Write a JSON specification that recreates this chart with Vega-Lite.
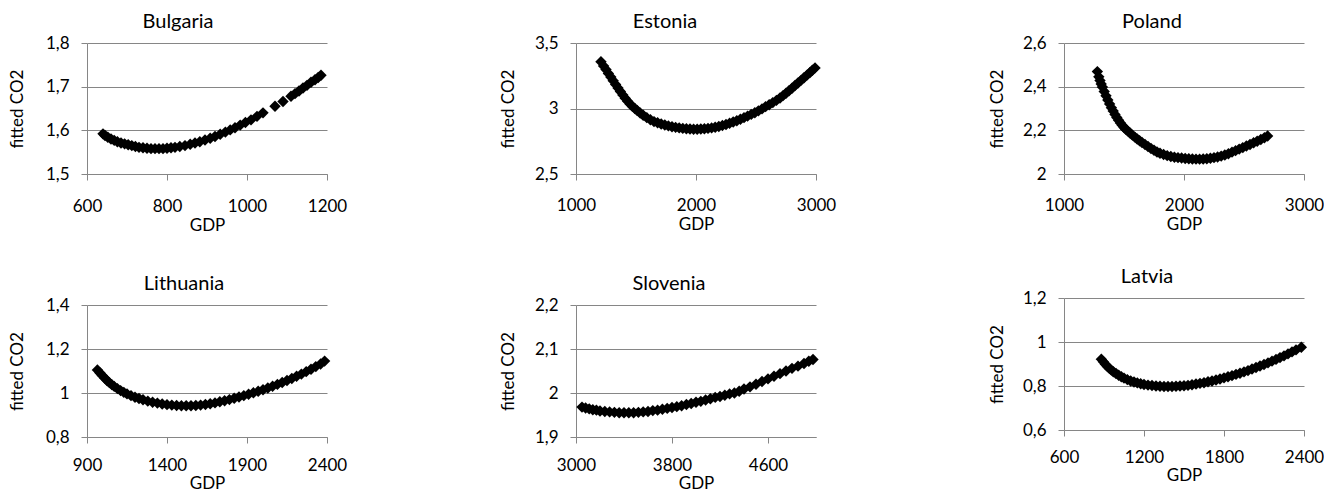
{
  "$schema": "https://vega.github.io/schema/vega-lite/v6.json",
  "padding": {"left": 8, "top": 11, "right": 0, "bottom": 0},
  "autosize": {"type": "pad"},
  "background": "white",
  "data": {"values": [
    {"c":"Bulgaria","GDP":640,"CO2":1.592},{"c":"Bulgaria","GDP":645,"CO2":1.588},{"c":"Bulgaria","GDP":652,"CO2":1.584},{"c":"Bulgaria","GDP":660,"CO2":1.58},{"c":"Bulgaria","GDP":668,"CO2":1.577},{"c":"Bulgaria","GDP":676,"CO2":1.574},{"c":"Bulgaria","GDP":685,"CO2":1.571},{"c":"Bulgaria","GDP":694,"CO2":1.569},{"c":"Bulgaria","GDP":703,"CO2":1.567},{"c":"Bulgaria","GDP":712,"CO2":1.565},{"c":"Bulgaria","GDP":721,"CO2":1.563},{"c":"Bulgaria","GDP":730,"CO2":1.561},{"c":"Bulgaria","GDP":740,"CO2":1.56},{"c":"Bulgaria","GDP":750,"CO2":1.559},{"c":"Bulgaria","GDP":760,"CO2":1.558},{"c":"Bulgaria","GDP":770,"CO2":1.558},{"c":"Bulgaria","GDP":780,"CO2":1.558},{"c":"Bulgaria","GDP":790,"CO2":1.558},{"c":"Bulgaria","GDP":800,"CO2":1.559},{"c":"Bulgaria","GDP":810,"CO2":1.56},{"c":"Bulgaria","GDP":820,"CO2":1.561},{"c":"Bulgaria","GDP":832,"CO2":1.563},{"c":"Bulgaria","GDP":845,"CO2":1.565},{"c":"Bulgaria","GDP":858,"CO2":1.568},{"c":"Bulgaria","GDP":870,"CO2":1.571},{"c":"Bulgaria","GDP":882,"CO2":1.574},{"c":"Bulgaria","GDP":895,"CO2":1.578},{"c":"Bulgaria","GDP":908,"CO2":1.582},{"c":"Bulgaria","GDP":920,"CO2":1.586},{"c":"Bulgaria","GDP":933,"CO2":1.591},{"c":"Bulgaria","GDP":946,"CO2":1.596},{"c":"Bulgaria","GDP":958,"CO2":1.601},{"c":"Bulgaria","GDP":970,"CO2":1.606},{"c":"Bulgaria","GDP":983,"CO2":1.612},{"c":"Bulgaria","GDP":996,"CO2":1.618},{"c":"Bulgaria","GDP":1010,"CO2":1.624},{"c":"Bulgaria","GDP":1025,"CO2":1.632},{"c":"Bulgaria","GDP":1040,"CO2":1.64},{"c":"Bulgaria","GDP":1070,"CO2":1.655},{"c":"Bulgaria","GDP":1090,"CO2":1.666},{"c":"Bulgaria","GDP":1110,"CO2":1.678},{"c":"Bulgaria","GDP":1120,"CO2":1.684},{"c":"Bulgaria","GDP":1130,"CO2":1.69},{"c":"Bulgaria","GDP":1140,"CO2":1.697},{"c":"Bulgaria","GDP":1150,"CO2":1.703},{"c":"Bulgaria","GDP":1160,"CO2":1.71},{"c":"Bulgaria","GDP":1170,"CO2":1.716},{"c":"Bulgaria","GDP":1178,"CO2":1.721},{"c":"Bulgaria","GDP":1185,"CO2":1.726},

    {"c":"Estonia","GDP":1208,"CO2":3.357},{"c":"Estonia","GDP":1230,"CO2":3.325},{"c":"Estonia","GDP":1250,"CO2":3.297},{"c":"Estonia","GDP":1270,"CO2":3.268},{"c":"Estonia","GDP":1290,"CO2":3.24},{"c":"Estonia","GDP":1310,"CO2":3.212},{"c":"Estonia","GDP":1330,"CO2":3.184},{"c":"Estonia","GDP":1350,"CO2":3.157},{"c":"Estonia","GDP":1370,"CO2":3.13},{"c":"Estonia","GDP":1390,"CO2":3.104},{"c":"Estonia","GDP":1410,"CO2":3.079},{"c":"Estonia","GDP":1430,"CO2":3.056},{"c":"Estonia","GDP":1450,"CO2":3.035},{"c":"Estonia","GDP":1470,"CO2":3.016},{"c":"Estonia","GDP":1490,"CO2":3.0},{"c":"Estonia","GDP":1510,"CO2":2.985},{"c":"Estonia","GDP":1535,"CO2":2.966},{"c":"Estonia","GDP":1560,"CO2":2.948},{"c":"Estonia","GDP":1590,"CO2":2.93},{"c":"Estonia","GDP":1620,"CO2":2.914},{"c":"Estonia","GDP":1650,"CO2":2.9},{"c":"Estonia","GDP":1680,"CO2":2.891},{"c":"Estonia","GDP":1710,"CO2":2.882},{"c":"Estonia","GDP":1740,"CO2":2.874},{"c":"Estonia","GDP":1770,"CO2":2.867},{"c":"Estonia","GDP":1800,"CO2":2.861},{"c":"Estonia","GDP":1830,"CO2":2.856},{"c":"Estonia","GDP":1860,"CO2":2.852},{"c":"Estonia","GDP":1890,"CO2":2.848},{"c":"Estonia","GDP":1920,"CO2":2.845},{"c":"Estonia","GDP":1950,"CO2":2.843},{"c":"Estonia","GDP":1980,"CO2":2.842},{"c":"Estonia","GDP":2010,"CO2":2.842},{"c":"Estonia","GDP":2040,"CO2":2.843},{"c":"Estonia","GDP":2070,"CO2":2.845},{"c":"Estonia","GDP":2100,"CO2":2.848},{"c":"Estonia","GDP":2130,"CO2":2.852},{"c":"Estonia","GDP":2160,"CO2":2.857},{"c":"Estonia","GDP":2190,"CO2":2.863},{"c":"Estonia","GDP":2220,"CO2":2.87},{"c":"Estonia","GDP":2250,"CO2":2.878},{"c":"Estonia","GDP":2280,"CO2":2.887},{"c":"Estonia","GDP":2310,"CO2":2.897},{"c":"Estonia","GDP":2340,"CO2":2.907},{"c":"Estonia","GDP":2370,"CO2":2.918},{"c":"Estonia","GDP":2400,"CO2":2.93},{"c":"Estonia","GDP":2430,"CO2":2.942},{"c":"Estonia","GDP":2460,"CO2":2.955},{"c":"Estonia","GDP":2490,"CO2":2.968},{"c":"Estonia","GDP":2520,"CO2":2.982},{"c":"Estonia","GDP":2550,"CO2":2.997},{"c":"Estonia","GDP":2580,"CO2":3.014},{"c":"Estonia","GDP":2610,"CO2":3.029},{"c":"Estonia","GDP":2640,"CO2":3.045},{"c":"Estonia","GDP":2670,"CO2":3.062},{"c":"Estonia","GDP":2700,"CO2":3.08},{"c":"Estonia","GDP":2725,"CO2":3.098},{"c":"Estonia","GDP":2750,"CO2":3.116},{"c":"Estonia","GDP":2775,"CO2":3.135},{"c":"Estonia","GDP":2800,"CO2":3.155},{"c":"Estonia","GDP":2825,"CO2":3.175},{"c":"Estonia","GDP":2850,"CO2":3.195},{"c":"Estonia","GDP":2875,"CO2":3.215},{"c":"Estonia","GDP":2900,"CO2":3.235},{"c":"Estonia","GDP":2925,"CO2":3.255},{"c":"Estonia","GDP":2950,"CO2":3.275},{"c":"Estonia","GDP":2970,"CO2":3.292},{"c":"Estonia","GDP":2992,"CO2":3.31},

    {"c":"Poland","GDP":1278,"CO2":2.469},{"c":"Poland","GDP":1290,"CO2":2.445},{"c":"Poland","GDP":1300,"CO2":2.428},{"c":"Poland","GDP":1310,"CO2":2.412},{"c":"Poland","GDP":1320,"CO2":2.398},{"c":"Poland","GDP":1335,"CO2":2.378},{"c":"Poland","GDP":1350,"CO2":2.358},{"c":"Poland","GDP":1365,"CO2":2.339},{"c":"Poland","GDP":1380,"CO2":2.321},{"c":"Poland","GDP":1395,"CO2":2.304},{"c":"Poland","GDP":1410,"CO2":2.288},{"c":"Poland","GDP":1425,"CO2":2.273},{"c":"Poland","GDP":1440,"CO2":2.259},{"c":"Poland","GDP":1455,"CO2":2.246},{"c":"Poland","GDP":1470,"CO2":2.234},{"c":"Poland","GDP":1485,"CO2":2.223},{"c":"Poland","GDP":1500,"CO2":2.213},{"c":"Poland","GDP":1515,"CO2":2.205},{"c":"Poland","GDP":1530,"CO2":2.198},{"c":"Poland","GDP":1550,"CO2":2.188},{"c":"Poland","GDP":1570,"CO2":2.178},{"c":"Poland","GDP":1590,"CO2":2.169},{"c":"Poland","GDP":1610,"CO2":2.16},{"c":"Poland","GDP":1630,"CO2":2.152},{"c":"Poland","GDP":1650,"CO2":2.144},{"c":"Poland","GDP":1675,"CO2":2.135},{"c":"Poland","GDP":1700,"CO2":2.126},{"c":"Poland","GDP":1725,"CO2":2.117},{"c":"Poland","GDP":1750,"CO2":2.109},{"c":"Poland","GDP":1775,"CO2":2.101},{"c":"Poland","GDP":1800,"CO2":2.095},{"c":"Poland","GDP":1830,"CO2":2.089},{"c":"Poland","GDP":1860,"CO2":2.084},{"c":"Poland","GDP":1890,"CO2":2.08},{"c":"Poland","GDP":1920,"CO2":2.077},{"c":"Poland","GDP":1950,"CO2":2.075},{"c":"Poland","GDP":1980,"CO2":2.073},{"c":"Poland","GDP":2010,"CO2":2.071},{"c":"Poland","GDP":2040,"CO2":2.07},{"c":"Poland","GDP":2070,"CO2":2.069},{"c":"Poland","GDP":2100,"CO2":2.068},{"c":"Poland","GDP":2130,"CO2":2.068},{"c":"Poland","GDP":2160,"CO2":2.069},{"c":"Poland","GDP":2190,"CO2":2.07},{"c":"Poland","GDP":2220,"CO2":2.072},{"c":"Poland","GDP":2250,"CO2":2.075},{"c":"Poland","GDP":2280,"CO2":2.078},{"c":"Poland","GDP":2310,"CO2":2.082},{"c":"Poland","GDP":2340,"CO2":2.087},{"c":"Poland","GDP":2370,"CO2":2.093},{"c":"Poland","GDP":2400,"CO2":2.1},{"c":"Poland","GDP":2430,"CO2":2.107},{"c":"Poland","GDP":2460,"CO2":2.114},{"c":"Poland","GDP":2490,"CO2":2.121},{"c":"Poland","GDP":2520,"CO2":2.128},{"c":"Poland","GDP":2550,"CO2":2.135},{"c":"Poland","GDP":2580,"CO2":2.143},{"c":"Poland","GDP":2610,"CO2":2.15},{"c":"Poland","GDP":2640,"CO2":2.158},{"c":"Poland","GDP":2670,"CO2":2.166},{"c":"Poland","GDP":2697,"CO2":2.174},

    {"c":"Lithuania","GDP":965,"CO2":1.105},{"c":"Lithuania","GDP":980,"CO2":1.092},{"c":"Lithuania","GDP":995,"CO2":1.08},{"c":"Lithuania","GDP":1010,"CO2":1.068},{"c":"Lithuania","GDP":1025,"CO2":1.057},{"c":"Lithuania","GDP":1040,"CO2":1.047},{"c":"Lithuania","GDP":1055,"CO2":1.038},{"c":"Lithuania","GDP":1070,"CO2":1.03},{"c":"Lithuania","GDP":1090,"CO2":1.02},{"c":"Lithuania","GDP":1110,"CO2":1.011},{"c":"Lithuania","GDP":1130,"CO2":1.003},{"c":"Lithuania","GDP":1150,"CO2":0.996},{"c":"Lithuania","GDP":1175,"CO2":0.988},{"c":"Lithuania","GDP":1200,"CO2":0.981},{"c":"Lithuania","GDP":1225,"CO2":0.975},{"c":"Lithuania","GDP":1250,"CO2":0.969},{"c":"Lithuania","GDP":1280,"CO2":0.963},{"c":"Lithuania","GDP":1310,"CO2":0.958},{"c":"Lithuania","GDP":1340,"CO2":0.954},{"c":"Lithuania","GDP":1370,"CO2":0.95},{"c":"Lithuania","GDP":1400,"CO2":0.947},{"c":"Lithuania","GDP":1430,"CO2":0.945},{"c":"Lithuania","GDP":1460,"CO2":0.943},{"c":"Lithuania","GDP":1490,"CO2":0.942},{"c":"Lithuania","GDP":1520,"CO2":0.942},{"c":"Lithuania","GDP":1550,"CO2":0.942},{"c":"Lithuania","GDP":1580,"CO2":0.943},{"c":"Lithuania","GDP":1610,"CO2":0.945},{"c":"Lithuania","GDP":1640,"CO2":0.948},{"c":"Lithuania","GDP":1670,"CO2":0.951},{"c":"Lithuania","GDP":1700,"CO2":0.955},{"c":"Lithuania","GDP":1730,"CO2":0.96},{"c":"Lithuania","GDP":1760,"CO2":0.965},{"c":"Lithuania","GDP":1790,"CO2":0.97},{"c":"Lithuania","GDP":1820,"CO2":0.976},{"c":"Lithuania","GDP":1850,"CO2":0.982},{"c":"Lithuania","GDP":1880,"CO2":0.988},{"c":"Lithuania","GDP":1910,"CO2":0.994},{"c":"Lithuania","GDP":1940,"CO2":1.001},{"c":"Lithuania","GDP":1970,"CO2":1.008},{"c":"Lithuania","GDP":2000,"CO2":1.015},{"c":"Lithuania","GDP":2030,"CO2":1.023},{"c":"Lithuania","GDP":2060,"CO2":1.031},{"c":"Lithuania","GDP":2090,"CO2":1.039},{"c":"Lithuania","GDP":2120,"CO2":1.048},{"c":"Lithuania","GDP":2150,"CO2":1.057},{"c":"Lithuania","GDP":2180,"CO2":1.066},{"c":"Lithuania","GDP":2210,"CO2":1.076},{"c":"Lithuania","GDP":2240,"CO2":1.086},{"c":"Lithuania","GDP":2270,"CO2":1.097},{"c":"Lithuania","GDP":2300,"CO2":1.108},{"c":"Lithuania","GDP":2330,"CO2":1.12},{"c":"Lithuania","GDP":2360,"CO2":1.132},{"c":"Lithuania","GDP":2385,"CO2":1.145},

    {"c":"Slovenia","GDP":3050,"CO2":1.968},{"c":"Slovenia","GDP":3080,"CO2":1.966},{"c":"Slovenia","GDP":3110,"CO2":1.964},{"c":"Slovenia","GDP":3140,"CO2":1.962},{"c":"Slovenia","GDP":3170,"CO2":1.961},{"c":"Slovenia","GDP":3200,"CO2":1.959},{"c":"Slovenia","GDP":3240,"CO2":1.958},{"c":"Slovenia","GDP":3280,"CO2":1.957},{"c":"Slovenia","GDP":3320,"CO2":1.956},{"c":"Slovenia","GDP":3360,"CO2":1.955},{"c":"Slovenia","GDP":3400,"CO2":1.955},{"c":"Slovenia","GDP":3440,"CO2":1.955},{"c":"Slovenia","GDP":3480,"CO2":1.955},{"c":"Slovenia","GDP":3520,"CO2":1.956},{"c":"Slovenia","GDP":3560,"CO2":1.957},{"c":"Slovenia","GDP":3600,"CO2":1.958},{"c":"Slovenia","GDP":3640,"CO2":1.96},{"c":"Slovenia","GDP":3680,"CO2":1.961},{"c":"Slovenia","GDP":3720,"CO2":1.963},{"c":"Slovenia","GDP":3760,"CO2":1.965},{"c":"Slovenia","GDP":3800,"CO2":1.967},{"c":"Slovenia","GDP":3840,"CO2":1.969},{"c":"Slovenia","GDP":3880,"CO2":1.971},{"c":"Slovenia","GDP":3920,"CO2":1.974},{"c":"Slovenia","GDP":3960,"CO2":1.976},{"c":"Slovenia","GDP":4000,"CO2":1.979},{"c":"Slovenia","GDP":4040,"CO2":1.981},{"c":"Slovenia","GDP":4080,"CO2":1.984},{"c":"Slovenia","GDP":4120,"CO2":1.987},{"c":"Slovenia","GDP":4160,"CO2":1.99},{"c":"Slovenia","GDP":4200,"CO2":1.992},{"c":"Slovenia","GDP":4240,"CO2":1.995},{"c":"Slovenia","GDP":4280,"CO2":1.998},{"c":"Slovenia","GDP":4320,"CO2":2.0},{"c":"Slovenia","GDP":4360,"CO2":2.004},{"c":"Slovenia","GDP":4400,"CO2":2.009},{"c":"Slovenia","GDP":4450,"CO2":2.014},{"c":"Slovenia","GDP":4500,"CO2":2.02},{"c":"Slovenia","GDP":4550,"CO2":2.026},{"c":"Slovenia","GDP":4600,"CO2":2.032},{"c":"Slovenia","GDP":4650,"CO2":2.038},{"c":"Slovenia","GDP":4700,"CO2":2.044},{"c":"Slovenia","GDP":4750,"CO2":2.05},{"c":"Slovenia","GDP":4800,"CO2":2.056},{"c":"Slovenia","GDP":4850,"CO2":2.061},{"c":"Slovenia","GDP":4900,"CO2":2.067},{"c":"Slovenia","GDP":4940,"CO2":2.072},{"c":"Slovenia","GDP":4975,"CO2":2.076},

    {"c":"Latvia","GDP":880,"CO2":0.922},{"c":"Latvia","GDP":895,"CO2":0.91},{"c":"Latvia","GDP":910,"CO2":0.899},{"c":"Latvia","GDP":925,"CO2":0.889},{"c":"Latvia","GDP":940,"CO2":0.88},{"c":"Latvia","GDP":955,"CO2":0.872},{"c":"Latvia","GDP":970,"CO2":0.865},{"c":"Latvia","GDP":990,"CO2":0.857},{"c":"Latvia","GDP":1010,"CO2":0.849},{"c":"Latvia","GDP":1030,"CO2":0.842},{"c":"Latvia","GDP":1050,"CO2":0.836},{"c":"Latvia","GDP":1075,"CO2":0.829},{"c":"Latvia","GDP":1100,"CO2":0.823},{"c":"Latvia","GDP":1125,"CO2":0.818},{"c":"Latvia","GDP":1150,"CO2":0.814},{"c":"Latvia","GDP":1175,"CO2":0.81},{"c":"Latvia","GDP":1200,"CO2":0.807},{"c":"Latvia","GDP":1230,"CO2":0.804},{"c":"Latvia","GDP":1260,"CO2":0.802},{"c":"Latvia","GDP":1290,"CO2":0.8},{"c":"Latvia","GDP":1320,"CO2":0.799},{"c":"Latvia","GDP":1350,"CO2":0.798},{"c":"Latvia","GDP":1380,"CO2":0.798},{"c":"Latvia","GDP":1410,"CO2":0.798},{"c":"Latvia","GDP":1440,"CO2":0.799},{"c":"Latvia","GDP":1470,"CO2":0.8},{"c":"Latvia","GDP":1500,"CO2":0.801},{"c":"Latvia","GDP":1530,"CO2":0.803},{"c":"Latvia","GDP":1560,"CO2":0.806},{"c":"Latvia","GDP":1590,"CO2":0.809},{"c":"Latvia","GDP":1620,"CO2":0.812},{"c":"Latvia","GDP":1650,"CO2":0.815},{"c":"Latvia","GDP":1680,"CO2":0.819},{"c":"Latvia","GDP":1710,"CO2":0.823},{"c":"Latvia","GDP":1740,"CO2":0.827},{"c":"Latvia","GDP":1770,"CO2":0.832},{"c":"Latvia","GDP":1800,"CO2":0.837},{"c":"Latvia","GDP":1830,"CO2":0.842},{"c":"Latvia","GDP":1860,"CO2":0.847},{"c":"Latvia","GDP":1890,"CO2":0.853},{"c":"Latvia","GDP":1920,"CO2":0.858},{"c":"Latvia","GDP":1950,"CO2":0.864},{"c":"Latvia","GDP":1980,"CO2":0.87},{"c":"Latvia","GDP":2010,"CO2":0.877},{"c":"Latvia","GDP":2040,"CO2":0.884},{"c":"Latvia","GDP":2070,"CO2":0.891},{"c":"Latvia","GDP":2100,"CO2":0.898},{"c":"Latvia","GDP":2130,"CO2":0.905},{"c":"Latvia","GDP":2160,"CO2":0.913},{"c":"Latvia","GDP":2190,"CO2":0.921},{"c":"Latvia","GDP":2220,"CO2":0.929},{"c":"Latvia","GDP":2250,"CO2":0.937},{"c":"Latvia","GDP":2280,"CO2":0.946},{"c":"Latvia","GDP":2310,"CO2":0.955},{"c":"Latvia","GDP":2340,"CO2":0.964},{"c":"Latvia","GDP":2380,"CO2":0.976}
  ]},
  "spacing": 152,
  "hconcat": [
    {
      "vconcat": [
        {
          "width": 240, "height": 131,
          "title": {"text": "Bulgaria", "dx": -29},
          "transform": [{"filter": "datum.c === 'Bulgaria'"}],
          "mark": {"type": "point", "shape": "diamond", "filled": true, "size": 130, "color": "#000000", "opacity": 1},
          "encoding": {
            "x": {"field": "GDP", "type": "quantitative", "scale": {"domain": [600, 1200], "nice": false, "zero": false}, "axis": {"values": [600, 800, 1000, 1200], "title": "GDP", "labelPadding": 18.5}},
            "y": {"field": "CO2", "type": "quantitative", "scale": {"domain": [1.5, 1.8], "nice": false, "zero": false}, "axis": {"values": [1.5, 1.6, 1.7, 1.8], "title": "fitted CO2", "titlePadding": 19, "labelExpr": "replace(format(datum.value, '.2~f'), '.', ',')"}}
          }
        },
        {
          "width": 240, "height": 132,
          "title": {"text": "Lithuania", "dx": -23},
          "transform": [{"filter": "datum.c === 'Lithuania'"}],
          "mark": {"type": "point", "shape": "diamond", "filled": true, "size": 130, "color": "#000000", "opacity": 1},
          "encoding": {
            "x": {"field": "GDP", "type": "quantitative", "scale": {"domain": [900, 2400], "nice": false, "zero": false}, "axis": {"values": [900, 1400, 1900, 2400], "title": "GDP", "labelPadding": 14, "titlePadding": 2}},
            "y": {"field": "CO2", "type": "quantitative", "scale": {"domain": [0.8, 1.4], "nice": false, "zero": false}, "axis": {"values": [0.8, 1.0, 1.2, 1.4], "title": "fitted CO2", "titlePadding": 19, "labelExpr": "replace(format(datum.value, '.2~f'), '.', ',')"}}
          }
        }
      ],
      "spacing": 131,
      "bounds": "flush"
    },
    {
      "vconcat": [
        {
          "width": 240, "height": 131,
          "title": {"text": "Estonia", "dx": -31},
          "transform": [{"filter": "datum.c === 'Estonia'"}],
          "mark": {"type": "point", "shape": "diamond", "filled": true, "size": 130, "color": "#000000", "opacity": 1},
          "encoding": {
            "x": {"field": "GDP", "type": "quantitative", "scale": {"domain": [1000, 3000], "nice": false, "zero": false}, "axis": {"values": [1000, 2000, 3000], "title": "GDP", "labelPadding": 17.5}},
            "y": {"field": "CO2", "type": "quantitative", "scale": {"domain": [2.5, 3.5], "nice": false, "zero": false}, "axis": {"values": [2.5, 3.0, 3.5], "title": "fitted CO2", "titlePadding": 17, "labelExpr": "replace(format(datum.value, '.2~f'), '.', ',')"}}
          }
        },
        {
          "width": 240, "height": 132,
          "title": {"text": "Slovenia", "dx": -27},
          "transform": [{"filter": "datum.c === 'Slovenia'"}],
          "mark": {"type": "point", "shape": "diamond", "filled": true, "size": 130, "color": "#000000", "opacity": 1},
          "encoding": {
            "x": {"field": "GDP", "type": "quantitative", "scale": {"domain": [3000, 5000], "nice": false, "zero": false}, "axis": {"values": [3000, 3800, 4600], "title": "GDP", "labelPadding": 14, "titlePadding": 2}},
            "y": {"field": "CO2", "type": "quantitative", "scale": {"domain": [1.9, 2.2], "nice": false, "zero": false}, "axis": {"values": [1.9, 2.0, 2.1, 2.2], "title": "fitted CO2", "titlePadding": 17, "labelExpr": "replace(format(datum.value, '.2~f'), '.', ',')"}}
          }
        }
      ],
      "spacing": 131,
      "bounds": "flush"
    },
    {
      "vconcat": [
        {
          "width": 240, "height": 131,
          "title": {"text": "Poland", "dx": -32},
          "transform": [{"filter": "datum.c === 'Poland'"}],
          "mark": {"type": "point", "shape": "diamond", "filled": true, "size": 130, "color": "#000000", "opacity": 1},
          "encoding": {
            "x": {"field": "GDP", "type": "quantitative", "scale": {"domain": [1000, 3000], "nice": false, "zero": false}, "axis": {"values": [1000, 2000, 3000], "title": "GDP", "labelPadding": 17.5}},
            "y": {"field": "CO2", "type": "quantitative", "scale": {"domain": [2.0, 2.6], "nice": false, "zero": false}, "axis": {"values": [2.0, 2.2, 2.4, 2.6], "title": "fitted CO2", "titlePadding": 16, "labelExpr": "replace(format(datum.value, '.2~f'), '.', ',')"}}
          }
        },
        {
          "width": 240, "height": 132,
          "title": {"text": "Latvia", "dx": -37},
          "transform": [{"filter": "datum.c === 'Latvia'"}],
          "mark": {"type": "point", "shape": "diamond", "filled": true, "size": 130, "color": "#000000", "opacity": 1},
          "encoding": {
            "x": {"field": "GDP", "type": "quantitative", "scale": {"domain": [600, 2400], "nice": false, "zero": false}, "axis": {"values": [600, 1200, 1800, 2400], "title": "GDP", "labelPadding": 13.5, "titlePadding": 2}},
            "y": {"field": "CO2", "type": "quantitative", "scale": {"domain": [0.6, 1.2], "nice": false, "zero": false}, "axis": {"values": [0.6, 0.8, 1.0, 1.2], "title": "fitted CO2", "titlePadding": 16, "labelExpr": "replace(format(datum.value, '.2~f'), '.', ',')"}}
          }
        }
      ],
      "spacing": 124,
      "bounds": "flush"
    }
  ],
  "config": {
    "font": "Lato",
    "view": {"stroke": null},
    "axis": {
      "domainColor": "#868686", "tickColor": "#868686", "gridColor": "#868686",
      "domainWidth": 1, "tickWidth": 1, "gridWidth": 1, "tickSize": 6,
      "labelFont": "Lato", "titleFont": "Lato",
      "labelFontSize": 17, "titleFontSize": 17,
      "labelColor": "#000000", "titleColor": "#000000", "titleFontWeight": "normal",
      "labelFlush": false, "labelOverlap": false
    },
    "axisX": {"grid": false, "titlePadding": 3, "format": "d"},
    "axisY": {"grid": true, "labelPadding": 12},
    "title": {"font": "Lato", "fontSize": 20, "fontWeight": "normal", "color": "#000000", "anchor": "middle", "frame": "group", "baseline": "alphabetic", "offset": 2.5}
  }
}
